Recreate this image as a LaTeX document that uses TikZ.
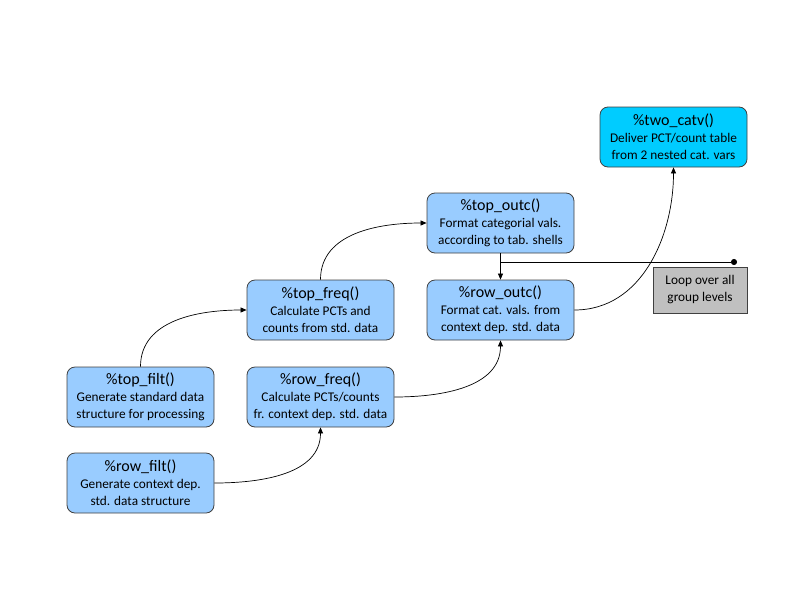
\documentclass[tikz,border=0pt]{standalone}
\usepackage{fontspec}
\setmainfont{Carlito}
\usetikzlibrary{arrows.meta}
\newcommand{\ttlfont}{\fontsize{16}{17}\selectfont}
\begin{document}
\begin{tikzpicture}[x=1pt,y=-1pt,
  fbox/.style={draw=black!75, line width=0.8pt, rounded corners=8pt, fill={rgb,255:red,153;green,204;blue,255},
    minimum width=147pt, minimum height=60pt, align=center, inner sep=1pt, font=\fontsize{13.3}{17}\selectfont},
  mainbox/.style={fbox, fill={rgb,255:red,0;green,204;blue,255}},
  loopbox/.style={draw=black!75, line width=0.8pt, fill={rgb,255:red,192;green,192;blue,192},
    minimum width=94pt, minimum height=46pt, align=center, inner sep=1pt, font=\fontsize{13.3}{17}\selectfont},
  conn/.style={draw=black, line width=0.7pt, -{Triangle[length=6pt,width=5pt]}}
]
\useasboundingbox (0,0) rectangle (800,600);
\node[fbox] (topfilt) at (140.5,397) {{\ttlfont \%top\_filt()}\\Generate standard data\\structure for processing};
\node[fbox] (rowfilt) at (140.5,483) {{\ttlfont \%row\_filt()}\\Generate context dep.\\std. data structure};
\node[fbox] (topfreq) at (320.5,310) {{\ttlfont \%top\_freq()}\\Calculate PCTs and\\counts from std. data};
\node[fbox] (rowfreq) at (320.5,397) {{\ttlfont \%row\_freq()}\\Calculate PCTs/counts\\fr. context dep. std. data};
\node[fbox] (topoutc) at (500.5,223) {{\ttlfont \%top\_outc()}\\Format categorial vals.\\according to tab. shells};
\node[fbox] (rowoutc) at (500.5,310) {{\ttlfont \%row\_outc()}\\Format cat. vals. from\\context dep. std. data};
\node[mainbox] (twocatv) at (673.5,137) {{\ttlfont \%two\_catv()}\\Deliver PCT/count table\\from 2 nested cat. vars};
\node[loopbox] (loop) at (700,290) {Loop over all\\group levels};
\coordinate (lj) at (500.5,262);
\coordinate (le) at (737,262);

\draw[conn] (topfilt.north) to[out=90,in=180] (topfreq.west);
\draw[conn] (topfreq.north) to[out=90,in=180] (topoutc.west);
\draw[conn] (rowfilt.east) to[out=0,in=-90] (rowfreq.south);
\draw[conn] (rowfreq.east) to[out=0,in=-90] (rowoutc.south);
\draw[conn] (rowoutc.east) to[out=0,in=-90] (twocatv.south);
\draw[conn] (topoutc.south) -- (rowoutc.north);
\draw[line width=0.7pt, -{Circle[length=6pt]}] (lj) -- (le);
\end{tikzpicture}
\end{document}
